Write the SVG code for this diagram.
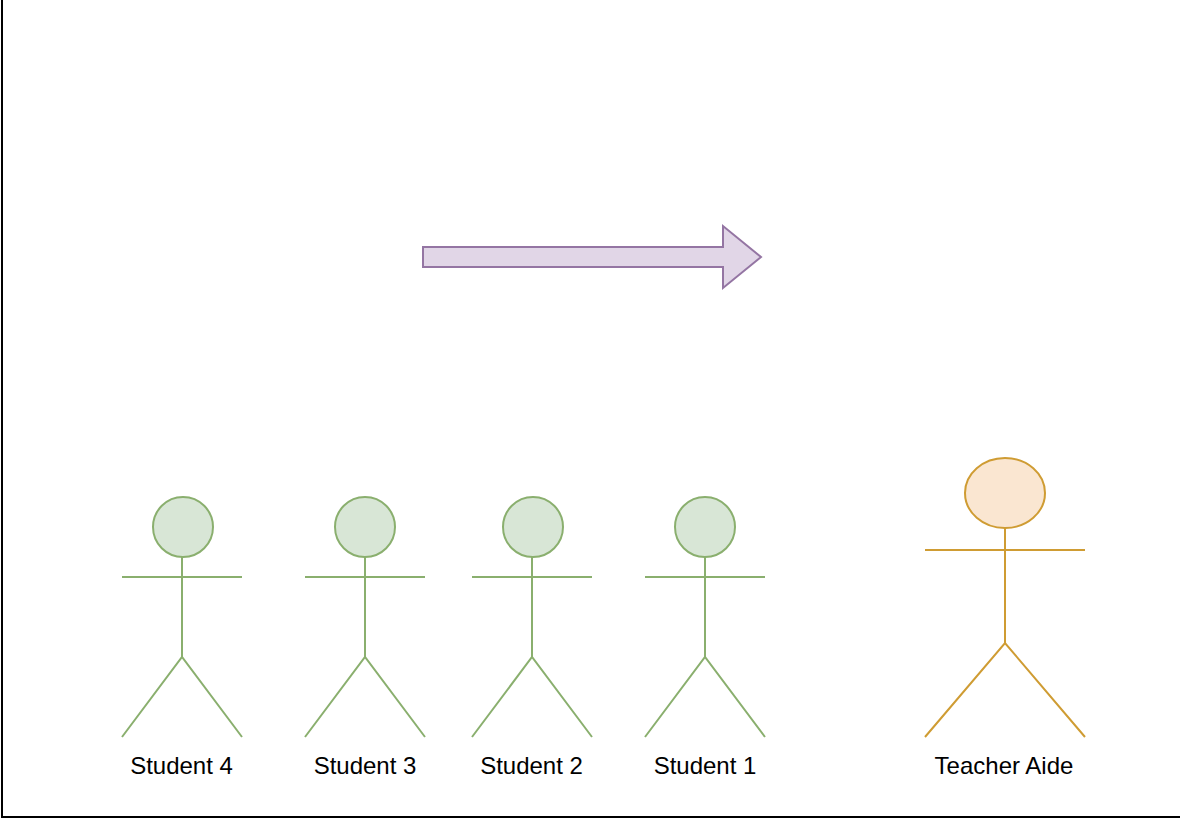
<svg xmlns="http://www.w3.org/2000/svg" width="1180" height="820" viewBox="0 0 1180 820">
<style>
.s{fill:none;stroke:#8aaf6e;stroke-width:2}
.sh{fill:#d8e6d6;stroke:#8aaf6e;stroke-width:2}
.t{fill:none;stroke:#cf9c33;stroke-width:2}
.th{fill:#fae6d1;stroke:#cf9c33;stroke-width:2}
text{font-family:"Liberation Sans",Arial,sans-serif;font-size:24px;fill:#000;text-anchor:middle}
</style>
<rect width="1180" height="820" fill="#fff"/>
<path id="frame" d="M2 0V817H1180" fill="none" stroke="#000" stroke-width="2"/>
<polygon id="arrow" points="423,247 723,247 723,226 761,257 723,288 723,267 423,267" fill="#e1d6e7" stroke="#9475a3" stroke-width="2"/>
<g id="student4"><circle class="sh" cx="183" cy="527" r="30"/><path class="s" d="M182 557V657M122 577H242M122 737L182 657L242 737"/><text x="181.500" y="774">Student 4</text></g>
<g id="student3"><circle class="sh" cx="365" cy="527" r="30"/><path class="s" d="M365 557V657M305 577H425M305 737L365 657L425 737"/><text x="365" y="774">Student 3</text></g>
<g id="student2"><circle class="sh" cx="533" cy="527" r="30"/><path class="s" d="M532 557V657M472 577H592M472 737L532 657L592 737"/><text x="531.500" y="774">Student 2</text></g>
<g id="student1"><circle class="sh" cx="705" cy="527" r="30"/><path class="s" d="M705 557V657M645 577H765M645 737L705 657L765 737"/><text x="705" y="774">Student 1</text></g>
<g id="teacher-aide"><ellipse class="th" cx="1005" cy="493" rx="40" ry="35"/><path class="t" d="M1005 528V643M925 550H1085M925 737L1005 643L1085 737"/><text x="1004" y="774">Teacher Aide</text></g>
</svg>
